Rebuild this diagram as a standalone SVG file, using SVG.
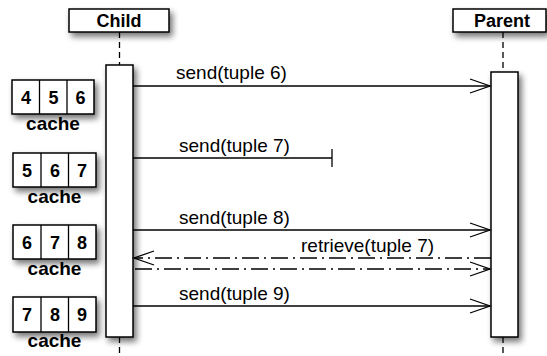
<svg xmlns="http://www.w3.org/2000/svg" width="547" height="356" viewBox="0 0 547 356">
<defs>
<filter id="sh" x="-30%" y="-30%" width="170%" height="180%">
<feGaussianBlur in="SourceAlpha" stdDeviation="3"/>
<feOffset dx="3" dy="4" result="b"/>
<feComponentTransfer><feFuncA type="linear" slope="0.55"/></feComponentTransfer>
<feMerge><feMergeNode/><feMergeNode in="SourceGraphic"/></feMerge>
</filter>
<marker id="ah" markerUnits="userSpaceOnUse" markerWidth="24" markerHeight="18" refX="21" refY="8" orient="auto">
<path d="M1,1 L21,8 L1,15" fill="none" stroke="#000" stroke-width="1.3" stroke-dasharray="none"/>
</marker>
</defs>
<style>
.box{fill:#fff;stroke:#000;stroke-width:1.5;filter:url(#sh)}
.ll{stroke:#000;stroke-width:1.3;stroke-dasharray:6 4;fill:none}
.msg{stroke:#000;stroke-width:1.3;fill:none}
.dd{stroke:#000;stroke-width:1.3;fill:none;stroke-dasharray:17 5 2 5}
.hd{font-family:"Liberation Sans",Arial,sans-serif;font-weight:bold;font-size:18px;text-anchor:middle}
.lb{font-family:"Liberation Sans",Arial,sans-serif;font-size:19px}
.num{font-family:"Liberation Sans",Arial,sans-serif;font-weight:bold;font-size:18px;text-anchor:middle}
.ca{font-family:"Liberation Sans",Arial,sans-serif;font-weight:bold;font-size:19px;text-anchor:middle}
.cl{fill:none;stroke:#000;stroke-width:1.3}
</style>
<rect width="547" height="356" fill="#fff"/>

<g id="lifelines">
<line class="ll" x1="119.5" y1="32" x2="119.5" y2="65"/>
<line class="ll" x1="119.5" y1="337" x2="119.5" y2="356"/>
<line class="ll" x1="503" y1="32" x2="503" y2="72"/>
<line class="ll" x1="503" y1="337" x2="503" y2="356"/>
</g>

<g id="child">
<rect class="box" x="69" y="9" width="100" height="23"/>
<text class="hd" x="119" y="27">Child</text>
</g>
<g id="parent">
<rect class="box" x="453" y="9" width="93" height="23"/>
<text class="hd" x="502" y="27">Parent</text>
</g>

<g id="child-activation">
<rect class="box" x="106" y="65" width="27" height="272"/>
</g>
<g id="parent-activation">
<rect class="box" x="491" y="72" width="27" height="265"/>
</g>

<g id="cache1">
<rect class="box" x="12" y="80" width="82" height="34"/>
<line class="cl" x1="39.5" y1="80" x2="39.5" y2="114"/>
<line class="cl" x1="67" y1="80" x2="67" y2="114"/>
<text class="num" x="26" y="103.5">4</text>
<text class="num" x="53.5" y="103.5">5</text>
<text class="num" x="80.5" y="103.5">6</text>
<text class="ca" x="53" y="130">cache</text>
</g>
<g id="cache2">
<rect class="box" x="13" y="153" width="83" height="34"/>
<line class="cl" x1="41" y1="153" x2="41" y2="187"/>
<line class="cl" x1="68.5" y1="153" x2="68.5" y2="187"/>
<text class="num" x="27" y="176.5">5</text>
<text class="num" x="55" y="176.5">6</text>
<text class="num" x="82" y="176.5">7</text>
<text class="ca" x="54.5" y="203">cache</text>
</g>
<g id="cache3">
<rect class="box" x="13" y="225" width="83" height="34"/>
<line class="cl" x1="41" y1="225" x2="41" y2="259"/>
<line class="cl" x1="68.5" y1="225" x2="68.5" y2="259"/>
<text class="num" x="27" y="248.5">6</text>
<text class="num" x="55" y="248.5">7</text>
<text class="num" x="82" y="248.5">8</text>
<text class="ca" x="54.5" y="275">cache</text>
</g>
<g id="cache4">
<rect class="box" x="13" y="297" width="83" height="35"/>
<line class="cl" x1="41" y1="297" x2="41" y2="332"/>
<line class="cl" x1="68.5" y1="297" x2="68.5" y2="332"/>
<text class="num" x="27" y="321">7</text>
<text class="num" x="55" y="321">8</text>
<text class="num" x="82" y="321">9</text>
<text class="ca" x="54.5" y="347">cache</text>
</g>

<g id="connectors">
<line class="msg" x1="133" y1="86" x2="490" y2="86" marker-end="url(#ah)"/>
<text class="lb" x="176" y="79">send(tuple 6)</text>
<line class="msg" x1="133" y1="158" x2="332" y2="158"/>
<line class="msg" x1="332" y1="149" x2="332" y2="167"/>
<text class="lb" x="179" y="152">send(tuple 7)</text>
<line class="msg" x1="133" y1="230" x2="490" y2="230" marker-end="url(#ah)"/>
<text class="lb" x="179" y="224">send(tuple 8)</text>
<line class="dd" x1="491" y1="258" x2="134" y2="258" marker-end="url(#ah)"/>
<text class="lb" x="301" y="252">retrieve(tuple 7)</text>
<line class="dd" x1="135" y1="269" x2="490" y2="269" marker-end="url(#ah)"/>
<line class="msg" x1="133" y1="306" x2="490" y2="306" marker-end="url(#ah)"/>
<text class="lb" x="179" y="300">send(tuple 9)</text>
</g>
</svg>
